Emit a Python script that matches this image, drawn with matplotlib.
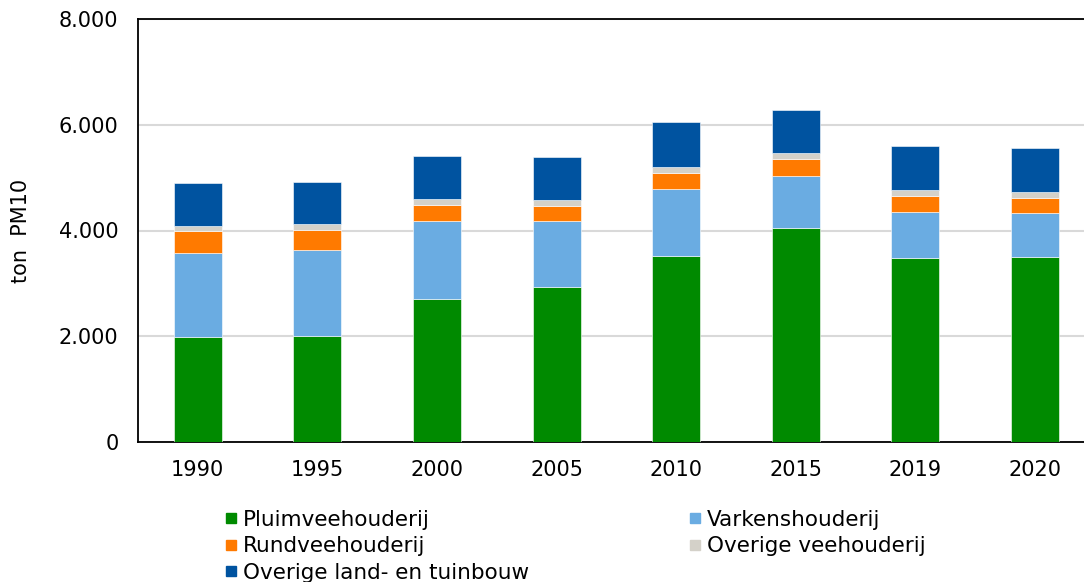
import numpy as np
import matplotlib.pyplot as plt
from matplotlib.lines import Line2D

# emissies PM10 uit de landbouw (ton)
jaren = ['1990', '1995', '2000', '2005', '2010', '2015', '2019', '2020']
pluimvee = [1990, 2010, 2700, 2930, 3510, 4050, 3475, 3490]
varkens = [1580, 1625, 1475, 1250, 1275, 975, 875, 835]
rundvee = [430, 380, 310, 290, 310, 335, 310, 295]
overig_vee = [80, 100, 115, 115, 115, 105, 105, 115]
overig_land = [810, 800, 800, 810, 850, 815, 840, 830]

reeksen = [
    ('Pluimveehouderij', pluimvee, '#008a00'),
    ('Varkenshouderij', varkens, '#6aace2'),
    ('Rundveehouderij', rundvee, '#ff7a00'),
    ('Overige veehouderij', overig_vee, '#d4d1c9'),
    ('Overige land- en tuinbouw', overig_land, '#0053a0'),
]

plt.rcParams['font.family'] = ['DejaVu Sans']

fig = plt.figure(figsize=(10.84, 5.82), dpi=100)
ax = fig.add_axes([138 / 1084, 1 - 442 / 582, 946 / 1084, 423 / 582])

x = np.arange(len(jaren))
onder = np.zeros(len(jaren))
for naam, waarden, kleur in reeksen:
    ax.bar(x, waarden, width=0.4, bottom=onder, color=kleur,
           edgecolor='white', linewidth=0.4, zorder=3)
    onder += np.array(waarden)

ax.set_xlim(-0.5, 7.41)
ax.set_ylim(0, 8000)
ax.set_yticks([0, 2000, 4000, 6000, 8000])
ax.set_yticklabels(['0', '2.000', '4.000', '6.000', '8.000'])
ax.set_xticks(x)
ax.set_xticklabels(jaren)
ax.tick_params(axis='both', length=0, labelsize=15)
ax.tick_params(axis='y', pad=14)
ax.tick_params(axis='x', pad=13)
ax.yaxis.grid(True, color='#d9d9d9', linewidth=1.5, zorder=0)
ax.set_axisbelow(True)

for kant in ['left', 'bottom', 'top']:
    ax.spines[kant].set_color('black')
    ax.spines[kant].set_linewidth(1.3)
ax.spines['right'].set_visible(False)

ax.set_ylabel('ton  PM10', fontsize=15)
ax.yaxis.set_label_coords(-107 / 946, 0.5)

# legenda: kolomsgewijs gevuld, dus volgorde aangepast
volgorde = [0, 2, 4, 1, 3]
handles = [Line2D([], [], marker='s', linestyle='none', markersize=7.5,
                  color=reeksen[i][2]) for i in volgorde]
labels = [reeksen[i][0] for i in volgorde]
fig.legend(handles, labels, ncol=2, loc='upper left',
           bbox_to_anchor=(225 / 1084, 1 - 510 / 582), frameon=False,
           fontsize=15.5, handlelength=0.6, handletextpad=0.25,
           columnspacing=7.4, labelspacing=0.3, borderaxespad=0, borderpad=0)

fig.savefig('out.png', dpi=100)
